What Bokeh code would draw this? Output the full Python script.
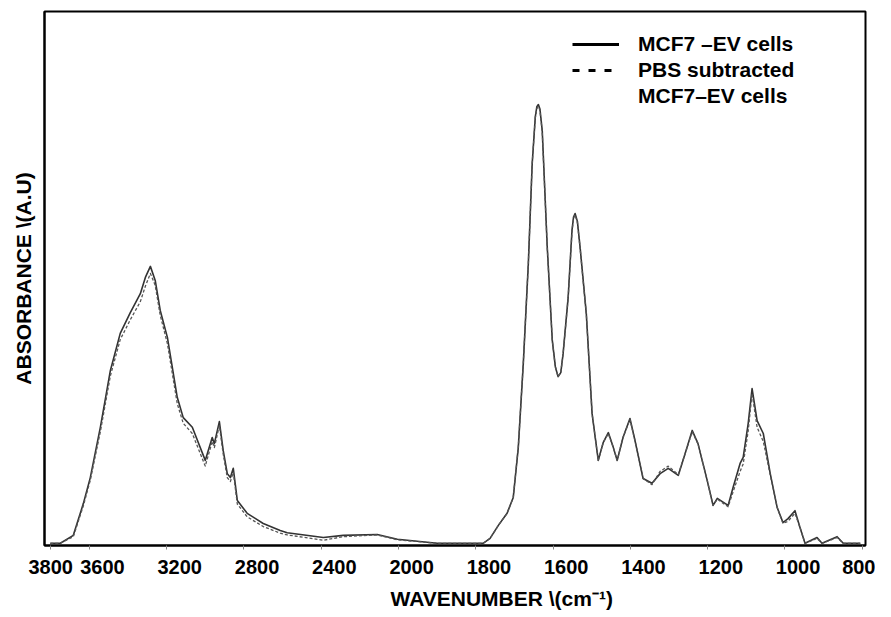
from bokeh.plotting import figure
from bokeh.models import (ColumnDataSource, CustomJSTransform, FixedTicker, Range1d,
                          Legend, LegendItem, LinearAxis, Title)
from bokeh.transform import transform
from bokeh.embed import file_html
from bokeh.resources import INLINE

# ---- data (wavenumber in cm^-1, absorbance in a.u.) ----
WAVENUMBER = [3802, 3750, 3683, 3631, 3595, 3543, 3491, 3440, 3388, 3336, 3310, 3284, 3259, 3233,
              3196, 3145, 3114, 3067, 3000, 2964, 2953, 2927, 2907, 2886, 2870, 2855, 2834, 2783,
              2700, 2612, 2576, 2389, 2286, 2110, 2006, 1900, 1781, 1763, 1742, 1719, 1703, 1690,
              1677, 1664, 1654, 1646, 1642, 1638, 1634, 1628, 1615, 1602, 1594, 1587, 1580, 1574,
              1561, 1551, 1547, 1543, 1537, 1530, 1514, 1499, 1483, 1470, 1457, 1444, 1434, 1419,
              1401, 1388, 1367, 1344, 1323, 1302, 1276, 1258, 1240, 1225, 1201, 1186, 1175, 1147,
              1134, 1116, 1108, 1095, 1085, 1072, 1056, 1038, 1020, 1005, 992, 974, 961, 948, 917,
              904, 865, 849, 805]

ABS_MCF7_EV = [0.005, 0.005, 0.023, 0.095, 0.154, 0.268, 0.397, 0.481, 0.528, 0.571, 0.608, 0.633,
               0.601, 0.533, 0.472, 0.336, 0.290, 0.268, 0.193, 0.245, 0.231, 0.281, 0.215, 0.163,
               0.154, 0.175, 0.102, 0.073, 0.050, 0.034, 0.029, 0.018, 0.023, 0.025, 0.014, 0.005,
               0.005, 0.016, 0.045, 0.073, 0.109, 0.222, 0.413, 0.639, 0.866, 0.972, 0.995, 1.000,
               0.990, 0.941, 0.676, 0.465, 0.405, 0.383, 0.392, 0.435, 0.562, 0.715, 0.745, 0.753,
               0.735, 0.676, 0.526, 0.299, 0.193, 0.234, 0.256, 0.222, 0.193, 0.245, 0.288, 0.238,
               0.152, 0.141, 0.163, 0.175, 0.159, 0.209, 0.261, 0.231, 0.147, 0.091, 0.107, 0.091,
               0.132, 0.186, 0.200, 0.277, 0.356, 0.283, 0.254, 0.163, 0.086, 0.052, 0.061, 0.079,
               0.041, 0.005, 0.018, 0.005, 0.020, 0.005, 0.005]

ABS_PBS_SUBTRACTED = [0.005, 0.005, 0.020, 0.090, 0.148, 0.258, 0.385, 0.467, 0.512, 0.553, 0.588,
                      0.617, 0.590, 0.522, 0.458, 0.322, 0.277, 0.254, 0.180, 0.236, 0.222, 0.272,
                      0.207, 0.154, 0.145, 0.166, 0.094, 0.065, 0.043, 0.028, 0.024, 0.012, 0.020,
                      0.024, 0.013, 0.005, 0.005, 0.016, 0.045, 0.073, 0.109, 0.222, 0.413, 0.639,
                      0.866, 0.970, 0.991, 0.996, 0.987, 0.938, 0.676, 0.465, 0.405, 0.383, 0.392,
                      0.435, 0.560, 0.712, 0.742, 0.750, 0.732, 0.674, 0.526, 0.299, 0.193, 0.234,
                      0.254, 0.222, 0.193, 0.245, 0.286, 0.238, 0.152, 0.138, 0.168, 0.180, 0.161,
                      0.209, 0.258, 0.231, 0.147, 0.091, 0.105, 0.088, 0.122, 0.168, 0.185, 0.260,
                      0.345, 0.268, 0.236, 0.160, 0.086, 0.050, 0.055, 0.073, 0.041, 0.005, 0.016,
                      0.005, 0.018, 0.005, 0.005]

TICK_WAVENUMBERS = [3800, 3600, 3200, 2800, 2400, 2000, 1800, 1600, 1400, 1200, 1000, 800]

SERIES_NAMES = ["MCF7 \u2013EV cells", "PBS subtracted", "MCF7\u2013EV cells"]

X_TITLE = "WAVENUMBER \\(cm\u207b\u00b9)"
Y_TITLE = "ABSORBANCE \\(A.U)"

# styling: horizontal offset (px) of each tick label from its tick, as drawn in the original
LABEL_SHIFT_PX = [0, 13, 13, 13, 13, 13, 13, 13, 13, 13, 13, 3]
PX_PER_200 = 77.3


# FTIR axis with a scale change at 2000 cm^-1 (half scale above 2000)
def warp(w):
    return 2000 + (w - 2000) / 2.0 if w > 2000 else float(w)


warp_js = CustomJSTransform(v_func="""
    const out = new Float64Array(xs.length);
    for (let i = 0; i < xs.length; i++) {
        const w = xs[i];
        out[i] = w > 2000 ? 2000 + (w - 2000) / 2 : w;
    }
    return out;
""")

src = ColumnDataSource(data=dict(wn=WAVENUMBER, ev=ABS_MCF7_EV, pbs=ABS_PBS_SUBTRACTED))
# one-point source: only used to give the legend samples a style (draws nothing)
leg_src = ColumnDataSource(data=dict(wn=WAVENUMBER[:1], ev=ABS_MCF7_EV[:1]))

FONT = "Liberation Sans"

p = figure(width=875, height=617, output_backend="svg", toolbar_location=None,
           x_range=Range1d(2916, 791.5), y_range=Range1d(0, 1.211), x_axis_location=None)
p.min_border_left = 44
p.min_border_top = 11
p.min_border_right = 10
p.min_border_bottom = 72

p.xgrid.visible = False
p.ygrid.visible = False
p.outline_line_color = "black"
p.outline_line_width = 2
p.background_fill_color = "white"
p.border_fill_color = "white"

r_ev = p.line(x=transform("wn", warp_js), y="ev", source=src,
              line_color="#333333", line_width=1.6, line_join="round")
r_pbs = p.line(x=transform("wn", warp_js), y="pbs", source=src,
               line_color="#555555", line_width=1.3, line_dash="3 2", line_join="round")

leg_ev = p.line(x=transform("wn", warp_js), y="ev", source=leg_src,
                line_color="black", line_width=3)
leg_pbs = p.line(x=transform("wn", warp_js), y="ev", source=leg_src,
                 line_color="black", line_width=3, line_dash="7 9")
leg_none = p.line(x=transform("wn", warp_js), y="ev", source=leg_src, line_alpha=0)

# x axis with tick marks only
tick_pos = [int(round(warp(w))) for w in TICK_WAVENUMBERS]
xa = LinearAxis(ticker=FixedTicker(ticks=tick_pos, minor_ticks=[]))
xa.major_label_text_color = None
xa.major_label_text_font_size = "2px"
xa.major_label_standoff = 0
xa.major_tick_in = 0
xa.major_tick_out = 4
xa.major_tick_line_color = "#888888"
xa.major_tick_line_width = 1
xa.minor_tick_line_color = None
xa.axis_line_color = "black"
xa.axis_line_width = 2
p.add_layout(xa, "below")

# x axis carrying the tick labels
lab_pos = [int(round(warp(w) - s * 200 / PX_PER_200)) for w, s in zip(TICK_WAVENUMBERS, LABEL_SHIFT_PX)]
xl = LinearAxis(ticker=FixedTicker(ticks=lab_pos, minor_ticks=[]))
xl.major_label_overrides = {tp: str(w) for tp, w in zip(lab_pos, TICK_WAVENUMBERS)}
xl.major_label_text_font = FONT
xl.major_label_text_font_style = "bold"
xl.major_label_text_font_size = "20px"
xl.major_label_text_color = "black"
xl.major_label_standoff = 10
xl.major_tick_in = 0
xl.major_tick_out = 0
xl.major_tick_line_color = None
xl.minor_tick_line_color = None
xl.axis_line_color = None
p.add_layout(xl, "below")

p.add_layout(Title(text=X_TITLE, align="left", offset=346, standoff=16,
                   text_font=FONT, text_font_style="bold", text_font_size="21px",
                   text_color="black"), "below")

# y axis (no ticks)
ya = p.yaxis[0]
ya.ticker = FixedTicker(ticks=[])
ya.axis_label = Y_TITLE
ya.axis_label_text_font = FONT
ya.axis_label_text_font_style = "bold"
ya.axis_label_text_font_size = "21px"
ya.axis_label_text_color = "black"
ya.axis_label_standoff = 10
ya.major_tick_line_color = None
ya.minor_tick_line_color = None
ya.major_label_text_color = None
ya.axis_line_color = "black"
ya.axis_line_width = 2

legend = Legend(items=[LegendItem(label=SERIES_NAMES[0], renderers=[leg_ev]),
                       LegendItem(label=SERIES_NAMES[1], renderers=[leg_pbs]),
                       LegendItem(label=SERIES_NAMES[2], renderers=[leg_none])],
                location=(528, 437))
legend.border_line_color = None
legend.background_fill_alpha = 0
legend.label_text_font = FONT
legend.label_text_font_style = "bold"
legend.label_text_font_size = "21px"
legend.label_text_color = "black"
legend.glyph_width = 47
legend.label_standoff = 19
legend.spacing = 2
legend.padding = 0
legend.margin = 0
legend.label_height = 22
legend.glyph_height = 22
p.add_layout(legend, "center")

open("out.html", "w").write(file_html(p, INLINE))
